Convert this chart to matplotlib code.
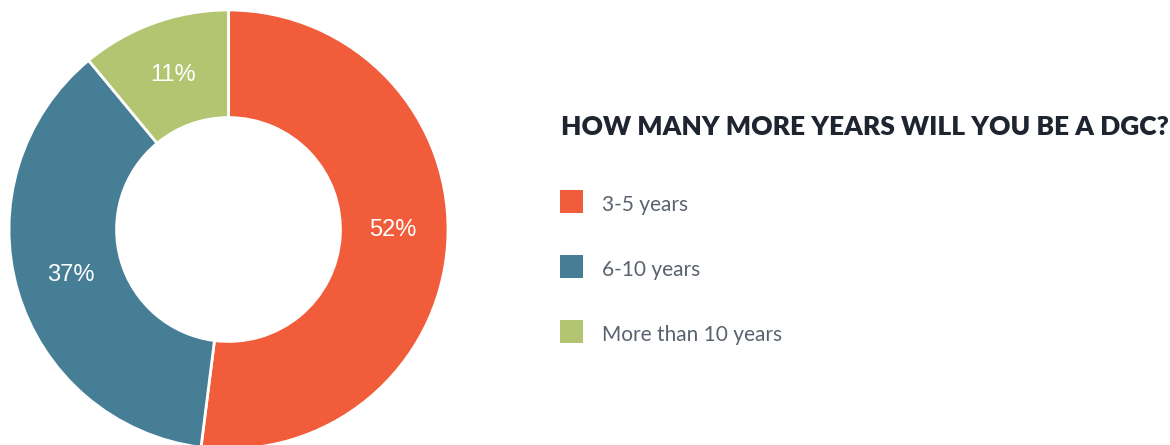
import matplotlib
matplotlib.use("Agg")
import matplotlib.pyplot as plt
from matplotlib.patches import Rectangle

labels = ['3-5 years', '6-10 years', 'More than 10 years']
shares = [52, 37, 11]
colors = ['#F15D3A', '#467E95', '#B3C570']
title = 'HOW MANY MORE YEARS WILL YOU BE A DGC?'

W, H = 1170, 445
fig = plt.figure(figsize=(W / 100, H / 100), dpi=100)

# donut: centre (228.5, 229.5) px from top, radius 219.5 px
cx, cy, r = 228.5, 229.5, 219.5
ax = fig.add_axes([(cx - r) / W, (H - cy - r) / H, 2 * r / W, 2 * r / H])
wedges, _, autotexts = ax.pie(
    shares, colors=colors, startangle=90, counterclock=False, radius=1,
    autopct='%d%%', pctdistance=0.75,
    wedgeprops=dict(width=0.49, edgecolor='white', linewidth=2),
    textprops=dict(color='white', fontsize=17, family=['Liberation Sans', 'DejaVu Sans']))
# the big slice label sits level with the centre in the original
autotexts[0].set_y(0)
ax.set_xlim(-1, 1)
ax.set_ylim(-1, 1)
ax.set_aspect('equal')
ax.axis('off')

fig.text(561 / W, 1 - 127 / H, title, fontsize=19, fontweight='heavy',
         color='#1F2530', va='center', ha='left', family=['Lato', 'DejaVu Sans'])

for i, (lab, col) in enumerate(zip(labels, colors)):
    y = 190 + 65 * i
    fig.add_artist(Rectangle((560 / W, 1 - (y + 23) / H), 23 / W, 23 / H,
                             transform=fig.transFigure, facecolor=col, edgecolor='none'))
    fig.text(602 / W, 1 - (y + 21) / H, lab, fontsize=15, color='#5A6270',
             va='baseline', ha='left', family=['Lato', 'DejaVu Sans'])

fig.savefig('out.png', dpi=100)
